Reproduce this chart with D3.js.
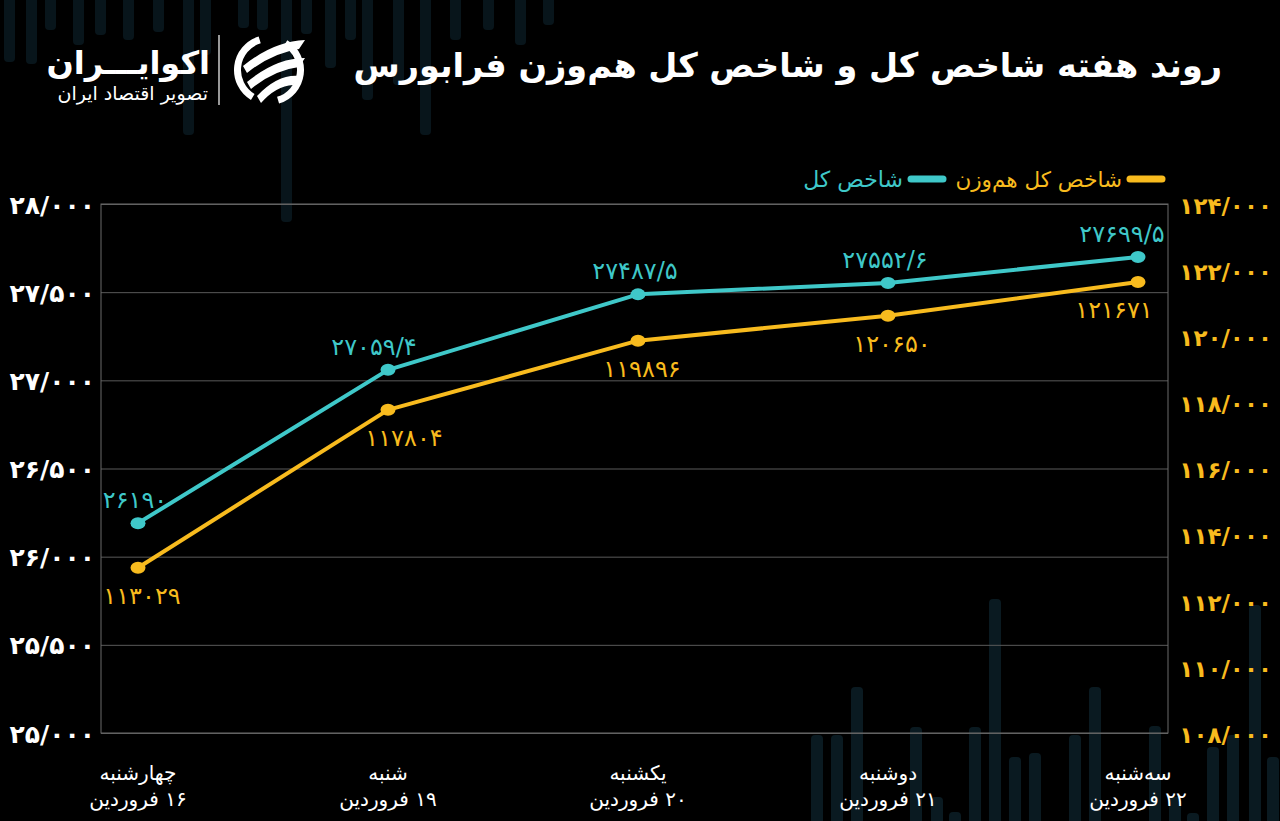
<!DOCTYPE html>
<html><head><meta charset="utf-8">
<script src="https://cdn.jsdelivr.net/npm/d3@7/dist/d3.min.js"></script>
<style>
html,body{margin:0;padding:0;background:#000;}
svg{display:block;}
text{font-family:"DejaVu Sans",sans-serif;}
</style></head>
<body>
<svg id="c" width="1280" height="821"></svg>
<script>
// ---- data ----
const weekdays = ["چهارشنبه","شنبه","یکشنبه","دوشنبه","سه‌شنبه"];
const dates = ["۱۶ فروردین","۱۹ فروردین","۲۰ فروردین","۲۱ فروردین","۲۲ فروردین"];
const totalIndex = [26190, 27059.4, 27487.5, 27552.6, 27699.5];          // شاخص کل
const equalWeightIndex = [113029, 117804, 119896, 120650, 121671];        // شاخص کل هم‌وزن
const leftTicks = [25000, 25500, 26000, 26500, 27000, 27500, 28000];
const rightTicks = [108000, 110000, 112000, 114000, 116000, 118000, 120000, 122000, 124000];
const titleText = "روند هفته شاخص کل و شاخص کل هم‌وزن فرابورس";
const legendNames = ["شاخص کل هم‌وزن", "شاخص کل"];
// decorative background bars [x, length]
const bgTopBars = [[9,62],[31,64],[50,30],[78,45],[100,35],[128,40],[158,32],[188,135],[205,55],[243,28],[262,30],[286,222],[306,34],[330,68],[350,40],[367,100],[398,85],[425,135],[455,40],[488,30],[520,45],[548,25]];
const bgBottomBars = [[817,735],[837,735],[857,687],[916,727],[937,797],[955,812],[975,727],[995,599],[1015,757],[1035,753],[1075,735],[1095,687],[1155,726],[1175,797],[1193,813],[1213,747],[1233,735],[1255,605],[1273,757]];

const TEAL = "#3fc8c9", YELLOW = "#f8bb1e";
const fa = s => String(s).replace(/[0-9]/g, d => "۰۱۲۳۴۵۶۷۸۹"[d]);
const fmtTick = v => fa(d3.format(",")(v).replace(/,/g, "/"));
const fmtVal = v => fa(String(v).replace(".", "/"));

const svg = d3.select("#c");
svg.append("rect").attr("width",1280).attr("height",821).attr("fill","#000");

// background bars
const bg = svg.append("g");
bg.selectAll(".bt").data(bgTopBars).join("rect")
  .attr("fill","#08151b")
  .attr("x", d => d[0]-5).attr("y", -6).attr("width", 11).attr("height", d => d[1]+6).attr("rx", 4);
bg.selectAll(".bb").data(bgBottomBars).join("rect")
  .attr("fill","#0a1a21")
  .attr("x", d => d[0]-6).attr("y", d => d[1]).attr("width", 12).attr("height", d => 830-d[1]).attr("rx", 4);

// layout
const L = 101, R = 1168, T = 204, B = 733;
const x = d3.scalePoint().domain(d3.range(weekdays.length)).range([138, 1138]);
const yL = d3.scaleLinear().domain([25000, 28000]).range([B, T]);
const yR = d3.scaleLinear().domain([108000, 124000]).range([B+1, T+1]);

// grid + left axis
const gL = svg.append("g").attr("transform", `translate(${L},0)`)
  .call(d3.axisLeft(yL).tickValues(leftTicks).tickSize(-(R-L)).tickFormat(fmtTick).tickPadding(6));
gL.select(".domain").remove();
gL.selectAll(".tick line").attr("stroke","#5a5a5a").attr("stroke-width",1);
gL.selectAll(".tick text").attr("fill","#fff").attr("font-size",25).attr("font-weight","bold")
  .attr("x",-6).attr("dy","0.36em");

// right axis
const gR = svg.append("g").attr("transform", `translate(${R},0)`)
  .call(d3.axisRight(yR).tickValues(rightTicks).tickSize(0).tickFormat(fmtTick));
gR.select(".domain").remove();
gR.selectAll(".tick text").attr("fill",YELLOW).attr("font-size",23).attr("font-weight","bold")
  .attr("text-anchor","end").attr("x",104).attr("dy","0.36em");

// frame
svg.append("rect").attr("x",L).attr("y",T).attr("width",R-L).attr("height",B-T)
  .attr("fill","none").attr("stroke","#6a6a6a").attr("stroke-width",1);

// lines
const lineL = d3.line().x((d,i)=>x(i)).y(d=>yL(d));
const lineR = d3.line().x((d,i)=>x(i)).y(d=>yR(d));
svg.append("path").attr("d", lineR(equalWeightIndex)).attr("fill","none").attr("stroke",YELLOW).attr("stroke-width",4).attr("stroke-linejoin","round");
svg.append("path").attr("d", lineL(totalIndex)).attr("fill","none").attr("stroke",TEAL).attr("stroke-width",4).attr("stroke-linejoin","round");
svg.selectAll(".py").data(equalWeightIndex).join("ellipse")
  .attr("cx",(d,i)=>x(i)).attr("cy",d=>yR(d)).attr("rx",7.5).attr("ry",6).attr("fill",YELLOW);
svg.selectAll(".pt").data(totalIndex).join("ellipse")
  .attr("cx",(d,i)=>x(i)).attr("cy",d=>yL(d)).attr("rx",7.5).attr("ry",6).attr("fill",TEAL);

// value labels
const n = weekdays.length;
svg.selectAll(".lt").data(totalIndex).join("text")
  .attr("x",(d,i)=>x(i) + (i===n-1 ? -16 : (i===1 ? -14 : -3)))
  .attr("y",d=>yL(d)-15).attr("text-anchor","middle")
  .attr("fill",TEAL).attr("font-size",24).text(fmtVal);
svg.selectAll(".ly").data(equalWeightIndex).join("text")
  .attr("x",(d,i)=>x(i) + (i===n-1 ? -24 : (i===1 ? 16 : 4)))
  .attr("y",d=>yR(d)+36).attr("text-anchor","middle")
  .attr("fill",YELLOW).attr("font-size",24).text(fmtVal);

// x labels
const xl = svg.append("g");
xl.selectAll(".w").data(weekdays).join("text")
  .attr("x",(d,i)=>x(i)).attr("y",780).attr("text-anchor","middle")
  .attr("fill","#fff").attr("font-size",20).attr("direction","rtl").attr("unicode-bidi","embed").text(d=>d);
xl.selectAll(".dt").data(dates).join("text")
  .attr("x",(d,i)=>x(i)).attr("y",806).attr("text-anchor","middle")
  .attr("fill","#fff").attr("font-size",20).attr("direction","rtl").attr("unicode-bidi","embed").text(d=>d);

// legend
const lg = svg.append("g");
lg.append("line").attr("x1",1130).attr("x2",1162).attr("y1",179).attr("y2",179)
  .attr("stroke",YELLOW).attr("stroke-width",7).attr("stroke-linecap","round");
lg.append("text").attr("x",1122).attr("y",187).attr("text-anchor","start").attr("direction","rtl")
  .attr("fill",YELLOW).attr("font-size",21.5).text(legendNames[0]);
lg.append("line").attr("x1",911).attr("x2",943).attr("y1",179).attr("y2",179)
  .attr("stroke",TEAL).attr("stroke-width",7).attr("stroke-linecap","round");
lg.append("text").attr("x",903).attr("y",187).attr("text-anchor","start").attr("direction","rtl")
  .attr("fill",TEAL).attr("font-size",22).text(legendNames[1]);

// title
svg.append("text").attr("x",1222).attr("y",77).attr("text-anchor","start").attr("direction","rtl")
  .attr("fill","#fff").attr("font-size",33.5).attr("font-weight","bold").text(titleText);

// logo
const lo = svg.append("g");
lo.append("text").attr("x",210).attr("y",74).attr("text-anchor","start").attr("direction","rtl")
  .attr("fill","#fff").attr("font-size",32).attr("font-weight","bold").text("اکوایـــران");
lo.append("text").attr("x",208).attr("y",100).attr("text-anchor","start").attr("direction","rtl")
  .attr("fill","#fff").attr("font-size",19).text("تصویر اقتصاد ایران");
lo.append("line").attr("x1",219).attr("x2",219).attr("y1",35).attr("y2",105).attr("stroke","#fff").attr("stroke-width",1.2);
const ic = lo.append("g").attr("transform","translate(269,70)");
const arc = d3.arc();
ic.append("path").attr("d", arc({innerRadius:28, outerRadius:35, startAngle:-2.6, endAngle:-0.3})).attr("fill","#fff");
ic.append("path").attr("d", arc({innerRadius:28, outerRadius:35, startAngle:0.55, endAngle:2.85})).attr("fill","#fff");
const stripes = [[-26,-4,36,-30],[-22,12,36,-12],[-12,26,30,6]];
ic.selectAll(".s").data(stripes).join("path")
  .attr("d", d => `M${d[0]},${d[1]} Q${(d[0]+d[2])/2},${(d[1]+d[3])/2-12} ${d[2]},${d[3]} L${d[2]-6},${d[3]+9} Q${(d[0]+d[2])/2-2},${(d[1]+d[3])/2} ${d[0]+4},${d[1]+7} Z`)
  .attr("fill","#fff");
</script>
</body></html>
